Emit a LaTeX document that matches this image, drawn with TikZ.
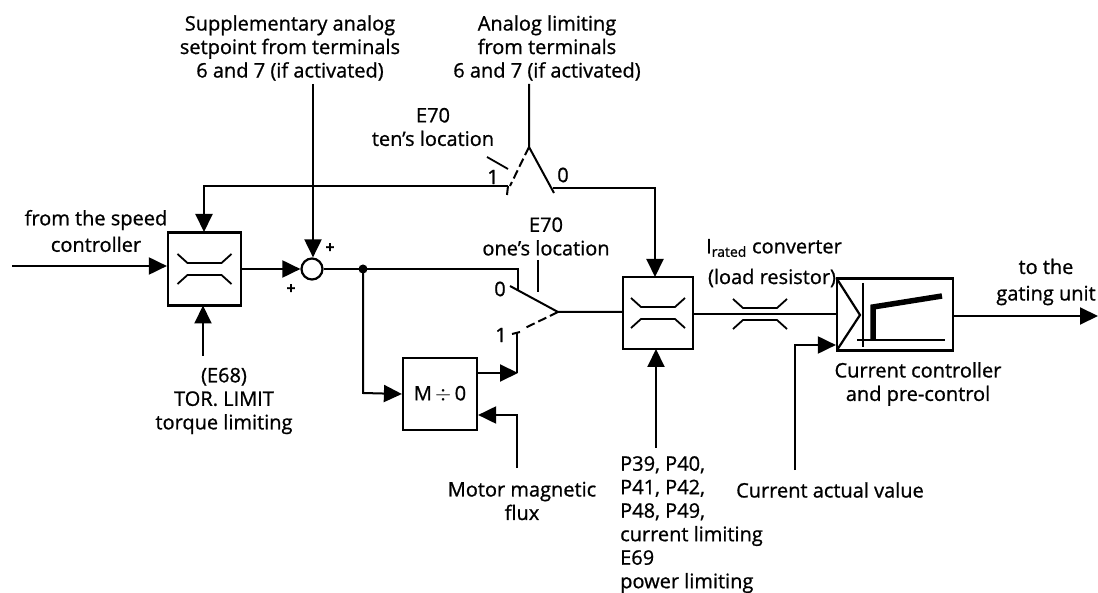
\documentclass[tikz,border=0pt]{standalone}
\usepackage{fontspec}
\setmainfont{Open Sans}[FakeBold=0.9]
\usetikzlibrary{arrows.meta}
\tikzset{
 wire/.style={line width=2pt},
 arr/.style={wire,-{Triangle[length=18pt,width=17pt]}},
 blk/.style={draw,line width=2.2pt,minimum width=73pt,minimum height=73pt,inner sep=0pt,fill=white},
 lbl/.style={font=\fontsize{20}{23.5}\selectfont,align=center,inner sep=0pt},
 lim/.style={line width=1.8pt,line join=round},
 dsh/.style={line width=2pt,dash pattern=on 9pt off 4pt},
}
\newcommand{\limsym}[2]{%
 \draw[lim] (#1-27,#2-15) -- (#1-17,#2-6) -- (#1+17,#2-6) -- (#1+27,#2-15);
 \draw[lim] (#1-27,#2+15) -- (#1-17,#2+6) -- (#1+17,#2+6) -- (#1+27,#2+15);}
\begin{document}
\begin{tikzpicture}[x=1pt,y=-1pt]
\useasboundingbox (0,0) rectangle (1098,593);
\node[blk] (b1) at (204.5,269) {};
\node[blk,minimum width=70pt,minimum height=72pt] (b2) at (658,313) {};
\node[blk,minimum width=74pt,minimum height=72pt] (mb) at (440,394) {\fontsize{20}{24}\selectfont M\,$\div$\,0};
\node[blk,minimum width=116pt,minimum height=72pt] (cc) at (895,314.5) {};
\node[draw,circle,line width=2.2pt,minimum size=21pt,inner sep=0pt] (sum) at (312,269) {};
\coordinate (in) at (12,266);
\coordinate (top1) at (313,84);
\coordinate (top2) at (529,84);
\coordinate (apex) at (529,147);
\coordinate (s1) at (507,195);
\coordinate (s0) at (554,193);
\coordinate (jn) at (363,269);
\coordinate (c1) at (518,269);
\coordinate (c0) at (518,290);
\coordinate (lev) at (558,312);
\coordinate (d1) at (525,328);
\coordinate (flux) at (517,468);
\coordinate (tl) at (203,356);
\coordinate (pp) at (656,448);
\coordinate (cav) at (795,470);
\coordinate (outp) at (1098,316);
\draw[arr] (in) -- (b1.west|-in);
\draw[arr] (b1.east|-sum) -- (sum.west);
\draw[arr] (top1) -- (top1|-sum.north);
\draw[arr] (508,186) -- (204,186) -- (204,232);
\draw[arr] (tl) -- (203,305.5);
\draw[wire] (sum.east) -- (jn) -- (c1) -- (c0);
\fill (jn) circle (4.5pt);
\draw[wire] (510,286) -- (lev) -- (b2.west|-lev);
\draw[dsh] (lev) -- (d1);
\draw[wire] (512,334) -- (520,332);
\draw[wire] (508,186) -- (s1);
\draw[wire] (top2) -- (apex) -- (s0);
\draw[dsh] (apex) -- (510,186);
\draw[arr] (553,188) -- (655,188) -- (655,277);
\draw[arr] (jn) -- (363,393) -- (mb.west);
\draw[wire] (517,333) -- (517,373);
\draw[arr] (mb.east|-0,373) -- (518,373);
\draw[arr] (flux) -- (517,415) -- (mb.east|-0,415);
\draw[arr] (pp) -- (656,349);
\draw[wire] (b2.east|-0,314) -- (cc.west|-0,314);
\draw[arr] (cav) -- (795,345) -- (cc.west|-0,345);
\draw[arr] (cc.east|-outp) -- (outp);
\limsym{204.5}{269}
\limsym{658}{313}
\limsym{760}{314}
% current block content
\draw[line width=2.2pt] (837,279) -- (860,315) -- (837,350);
\draw[line width=1.8pt] (863,283) -- (863,347);
\draw[line width=1.8pt] (857,340) -- (945,340);
\draw[line width=5.5pt] (873,339) -- (873,307) -- (942,296);
% switch marks
\draw[line width=1.8pt] (487,157) -- (508,169);
\draw[line width=1.8pt] (538,260) -- (538,292);
% labels
\node[lbl] (t1) at (290,48) {Supplementary analog\\setpoint from terminals\\6 and 7 (if activated)};
\node[lbl] (t2) at (547,48) {Analog limiting\\from terminals\\6 and 7 (if activated)};
\node[lbl] (t3) at (433,127) {E70\\ten's location};
\node[lbl] at (493,177) {1};
\node[lbl] at (563,175) {0};
\node[lbl] (t4) at (546,236.5) {E70\\one's location};
\node[lbl] at (500,289) {0};
\node[lbl] at (501,335) {1};
\node[lbl] at (96,231) {from the speed\\[3pt]controller};
\node[lbl,font=\fontsize{16}{20}\selectfont] at (330,248) {\textbf{+}};
\node[lbl,font=\fontsize{16}{20}\selectfont] at (291,289) {\textbf{+}};
\node[lbl] at (224,401) {(E68)\\TOR. LIMIT\\torque limiting};
\node[lbl] at (522,501) {Motor magnetic\\flux};
\node[lbl,anchor=west] at (736,490) {Current actual value};
\node[lbl,align=left,anchor=north west] at (620,456) {P39, P40,\\P41, P42,\\P48, P49,\\current limiting\\E69\\power limiting};
\node[lbl] at (774,248) {I\textsubscript{rated} converter};
\node[lbl] at (772,278) {(load resistor)};
\node[lbl] at (918,384) {Current controller\\and pre-control};
\node[lbl] at (1046,282) {to the\\[3pt]gating unit};
\end{tikzpicture}
\end{document}
